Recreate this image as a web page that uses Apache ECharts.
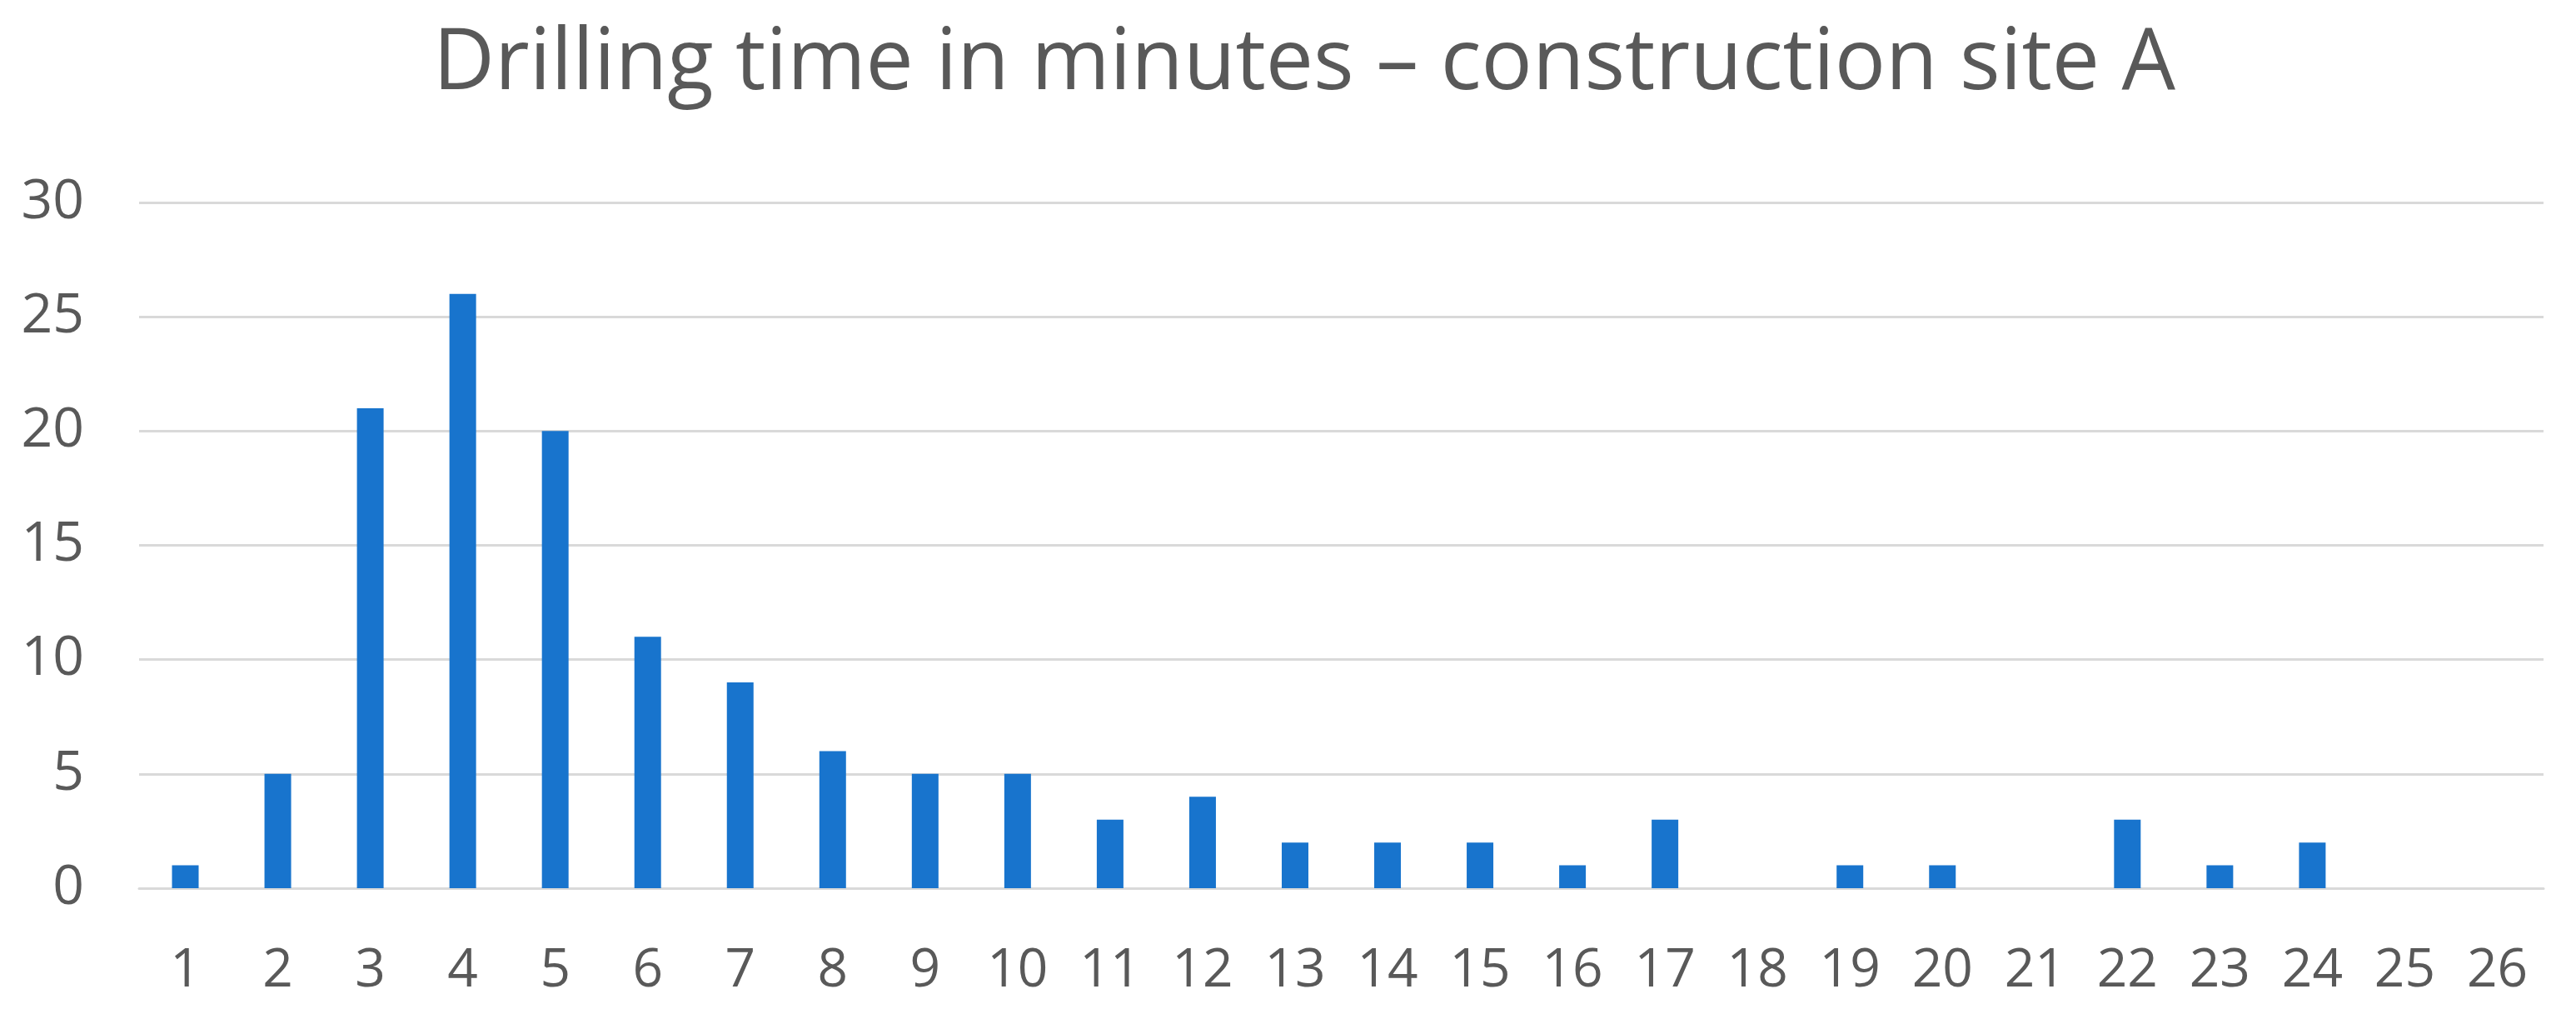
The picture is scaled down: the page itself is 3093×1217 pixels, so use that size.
<!DOCTYPE html>
<html>
<head>
<meta charset="utf-8">
<script src="https://cdn.jsdelivr.net/npm/echarts@6/dist/echarts.min.js"></script>
<style>
  html, body { margin: 0; padding: 0; background: #fff; }
  #chart { width: 3093px; height: 1217px; }
</style>
</head>
<body>
<div id="chart"></div>
<script>
var minutes = ['1','2','3','4','5','6','7','8','9','10','11','12','13','14','15','16','17','18','19','20','21','22','23','24','25','26'];
var counts = [1, 5, 21, 26, 20, 11, 9, 6, 5, 5, 3, 4, 2, 2, 2, 1, 3, 0, 1, 1, 0, 3, 1, 2, 0, 0];

var chart = echarts.init(document.getElementById('chart'));
chart.setOption({
    animation: false,
    backgroundColor: '#fff',
    title: {
        text: 'Drilling time in minutes – construction site A',
        left: 1561,
        textAlign: 'center',
        top: 22,
        textStyle: {
            fontFamily: 'Open Sans',
            fontWeight: 'normal',
            fontSize: 102,
            color: '#595959'
        }
    },
    grid: { left: 167, right: 39, top: 243, bottom: 151 },
    xAxis: {
        type: 'category',
        data: minutes,
        axisLine: { lineStyle: { color: '#d9d9d9', width: 3 } },
        axisTick: { show: false },
        axisLabel: {
            fontFamily: 'Open Sans',
            fontSize: 64,
            color: '#595959',
            margin: 68,
            interval: 0
        }
    },
    yAxis: {
        type: 'value',
        min: 0,
        max: 30,
        interval: 5,
        axisLine: { show: false },
        axisTick: { show: false },
        splitLine: { lineStyle: { color: '#d9d9d9', width: 3 } },
        axisLabel: {
            fontFamily: 'Open Sans',
            fontSize: 66,
            color: '#595959',
            margin: 66
        }
    },
    series: [{
        type: 'bar',
        data: counts,
        barWidth: 32,
        itemStyle: { color: '#1874cd' }
    }]
});
</script>
</body>
</html>
